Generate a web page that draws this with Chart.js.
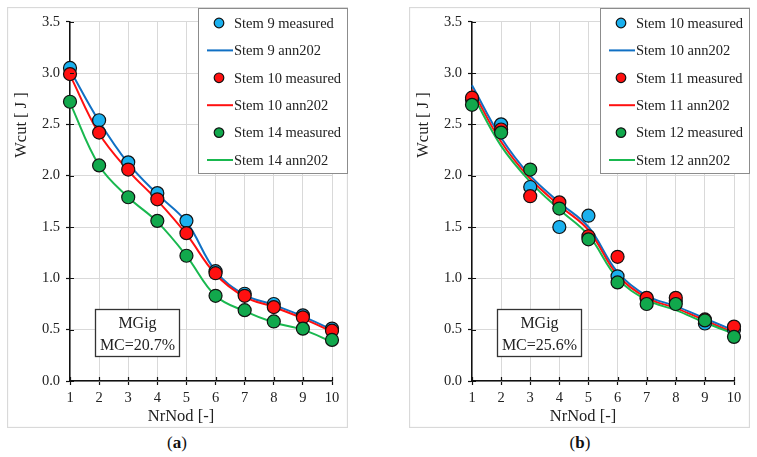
<!DOCTYPE html>
<html><head><meta charset="utf-8">
<script src="https://cdn.jsdelivr.net/npm/chart.js@4.4.1/dist/chart.umd.min.js"></script>
<style>
body{margin:0;background:#fff;width:757px;height:457px;position:relative;overflow:hidden;font-family:"Liberation Serif",serif}
canvas{position:absolute;top:7px}
.cap{position:absolute;top:433px;font-size:17px;color:#111;width:60px;text-align:center}
</style></head>
<body>
<canvas id="ca" width="341" height="421" style="left:7px"></canvas>
<canvas id="cb" width="341" height="421" style="left:409px"></canvas>
<div class="cap" style="left:147px">(<b>a</b>)</div>
<div class="cap" style="left:550px">(<b>b</b>)</div>
<script>
const nrNod = [1, 2, 3, 4, 5, 6, 7, 8, 9, 10];
const yTickStep = 0.5;
// Panel (a)
const aLabels = ["Stem 9 measured", "Stem 9 ann202", "Stem 10 measured", "Stem 10 ann202", "Stem 14 measured", "Stem 14 ann202"];
const aStem9Meas  = [3.05, 2.54, 2.13, 1.83, 1.56, 1.07, 0.85, 0.75, 0.64, 0.51];
const aStem9Ann   = [3.03, 2.53, 2.12, 1.82, 1.55, 1.07, 0.84, 0.74, 0.63, 0.50];
const aStem10Meas = [2.99, 2.42, 2.06, 1.77, 1.44, 1.05, 0.83, 0.72, 0.62, 0.49];
const aStem10Ann  = [2.98, 2.41, 2.05, 1.76, 1.43, 1.04, 0.82, 0.72, 0.61, 0.48];
const aStem14Meas = [2.72, 2.10, 1.79, 1.56, 1.22, 0.83, 0.69, 0.58, 0.51, 0.40];
const aStem14Ann  = [2.71, 2.10, 1.79, 1.55, 1.22, 0.83, 0.68, 0.57, 0.50, 0.38];
// Panel (b)
const bLabels = ["Stem 10 measured", "Stem 10 ann202", "Stem 11 measured", "Stem 11 ann202", "Stem 12 measured", "Stem 12 ann202"];
const bStem10Meas = [2.74, 2.50, 1.89, 1.50, 1.61, 1.02, 0.80, 0.78, 0.56, 0.50];
const bStem10Ann  = [2.88, 2.37, 2.00, 1.74, 1.50, 1.06, 0.83, 0.73, 0.61, 0.49];
const bStem11Meas = [2.76, 2.45, 1.80, 1.74, 1.41, 1.21, 0.81, 0.81, 0.60, 0.53];
const bStem11Ann  = [2.84, 2.33, 1.97, 1.71, 1.47, 1.03, 0.81, 0.71, 0.59, 0.47];
const bStem12Meas = [2.69, 2.42, 2.06, 1.68, 1.38, 0.96, 0.75, 0.75, 0.59, 0.43];
const bStem12Ann  = [2.80, 2.29, 1.94, 1.67, 1.42, 1.00, 0.79, 0.69, 0.57, 0.46];

const blueMk = '#1ab0ee', blueLn = '#1070c4', red = '#ff1010', greenMk = '#11a84c', greenLn = '#19b84f';
const FONT = '"Liberation Serif", serif';
const TXT = '#222';

function pts(arr){ return nrNod.map((x,i)=>({x:x, y:arr[i]})); }
function meas(label, arr, color, order){
  return {label, data: pts(arr), showLine:false, pointRadius:6.5, pointHoverRadius:6.5,
    pointBackgroundColor: color, pointBorderColor:'#111', pointBorderWidth:1.2, backgroundColor: color, borderColor: color, order, clip:false};
}
function ann(label, arr, color, order){
  return {label, data: pts(arr), showLine:true, borderColor: color, backgroundColor: color, borderWidth:2,
    pointRadius:0, tension:0.38, order, clip:false};
}

const overlay = {
  id:'overlay',
  afterDraw(chart, args, opts){
    const c = chart.ctx; const xs = chart.scales.x, ys = chart.scales.y;
    c.save();
    // frame
    c.strokeStyle = '#d9d9d9'; c.lineWidth = 1.3;
    c.strokeRect(0.5, 0.5, chart.width-1, chart.height-1);
    // inner tick marks (crossing axis)
    c.strokeStyle = '#111'; c.lineWidth = 1.2;
    c.beginPath();
    for (let v = 0; v <= 3.5001; v += yTickStep){ const py = Math.round(ys.getPixelForValue(v))+0.5; c.moveTo(xs.left, py); c.lineTo(xs.left+4, py); }
    for (const v of nrNod){ const px = Math.round(xs.getPixelForValue(v))+0.5; c.moveTo(px, ys.bottom); c.lineTo(px, ys.bottom-4); }
    c.stroke();
    // axis titles
    c.fillStyle = TXT; c.textAlign = 'center'; c.textBaseline = 'middle';
    c.font = '16.5px ' + FONT;
    c.fillText('NrNod [-]', 174, 410);
    c.save(); c.translate(15, 118); c.rotate(-Math.PI/2); c.fillText('Wcut [ J ]', 0, 0); c.restore();
    // legend
    const lx0 = 191, ly0 = 1, lw = 149, lh = 165;
    c.fillStyle = '#fff'; c.fillRect(lx0, ly0, lw, lh);
    c.strokeStyle = '#8c8c8c'; c.lineWidth = 1; c.strokeRect(lx0+0.5, ly0+0.5, lw, lh);
    c.font = '14.5px ' + FONT; c.textAlign = 'left';
    chart.data.datasets.forEach((d, i) => {
      const ry = 16 + i*27.4;
      if (d.showLine === false){
        c.beginPath(); c.arc(212, ry, 4.8, 0, Math.PI*2);
        c.fillStyle = d.pointBackgroundColor; c.fill();
        c.strokeStyle = '#111'; c.lineWidth = 1.2; c.stroke();
      } else {
        c.beginPath(); c.moveTo(200, ry); c.lineTo(226, ry);
        c.strokeStyle = d.borderColor; c.lineWidth = 2; c.stroke();
      }
      c.fillStyle = TXT; c.fillText(d.label, 227, ry+1);
    });
    // MGig box
    c.fillStyle = '#fff'; c.fillRect(88, 302, 84, 47);
    c.strokeStyle = '#333'; c.lineWidth = 1.3; c.strokeRect(88.5, 302.5, 84, 47);
    c.fillStyle = TXT; c.textAlign = 'center'; c.font = '16px ' + FONT;
    c.fillText('MGig', 130.5, 317);
    c.fillText(opts.mc, 130.5, 339);
    c.restore();
  }
};

function makeChart(id, datasets, mc){
  return new Chart(document.getElementById(id), {
    type:'line',
    data:{datasets},
    plugins:[overlay],
    options:{
      responsive:false, animation:false, devicePixelRatio:1,
      layout:{padding:{left:0, right:16, top:9, bottom:0}},
      plugins:{legend:{display:false}, tooltip:{enabled:false}, overlay:{mc}},
      scales:{
        x:{type:'linear', min:1, max:10,
          ticks:{stepSize:1, color:TXT, font:{family:FONT, size:14.5}, padding:4, autoSkip:false, maxRotation:0},
          grid:{color:'#d9d9d9', lineWidth:1, tickColor:'#111', tickLength:4, tickWidth:1.2},
          border:{color:'#111', width:1.5},
          afterFit(s){ s.height = 47; }
        },
        y:{min:0, max:3.5,
          ticks:{stepSize:yTickStep, color:TXT, font:{family:FONT, size:14.5}, padding:6, callback:v=>v.toFixed(1)},
          grid:{color:'#d9d9d9', lineWidth:1, tickColor:'#111', tickLength:4, tickWidth:1.2},
          border:{color:'#111', width:1.5},
          afterFit(s){ s.width = 63; }
        }
      }
    }
  });
}

makeChart('ca', [
  meas(aLabels[0], aStem9Meas, blueMk, 3),
  ann(aLabels[1], aStem9Ann, blueLn, 6),
  meas(aLabels[2], aStem10Meas, red, 2),
  ann(aLabels[3], aStem10Ann, red, 5),
  meas(aLabels[4], aStem14Meas, greenMk, 1),
  ann(aLabels[5], aStem14Ann, greenLn, 4)
], 'MC=20.7%');

makeChart('cb', [
  meas(bLabels[0], bStem10Meas, blueMk, 3),
  ann(bLabels[1], bStem10Ann, blueLn, 6),
  meas(bLabels[2], bStem11Meas, red, 2),
  ann(bLabels[3], bStem11Ann, red, 5),
  meas(bLabels[4], bStem12Meas, greenMk, 1),
  ann(bLabels[5], bStem12Ann, greenLn, 4)
], 'MC=25.6%');
</script>
</body></html>
